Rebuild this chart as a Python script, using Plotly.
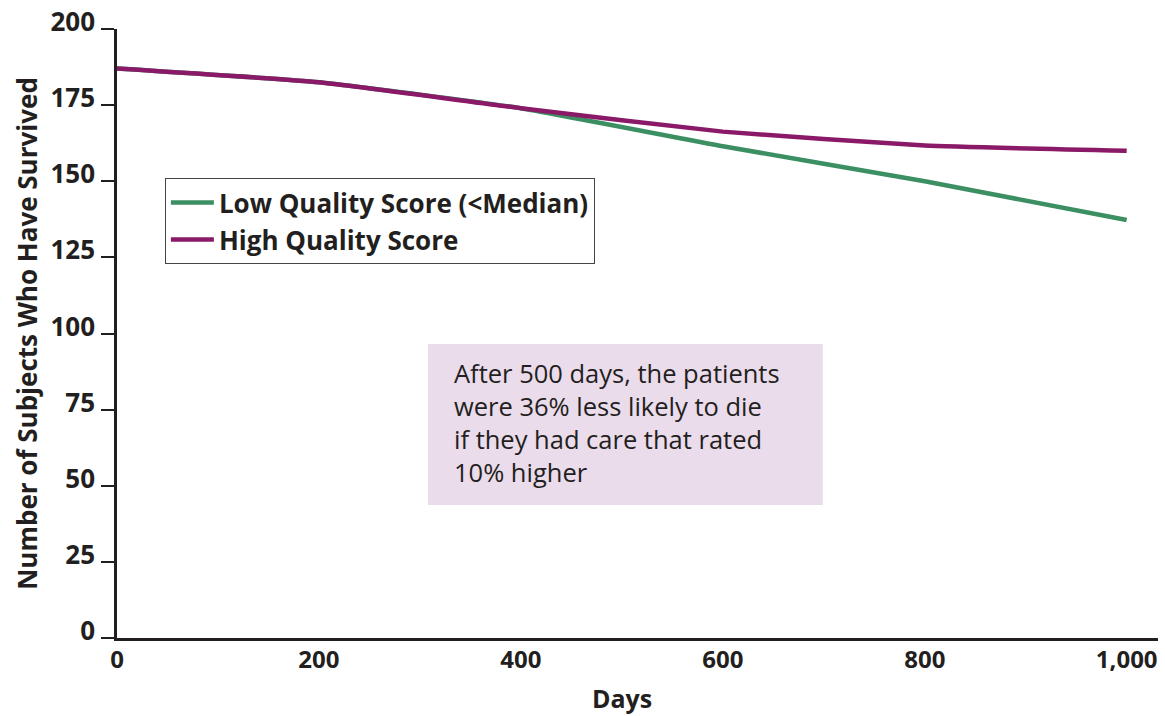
import plotly.graph_objects as go

# Survival counts by day for the two quality-score groups
days = [0, 200, 400, 600, 800, 1000]
low_quality = [187, 182.5, 174, 161.5, 150, 137.3]
high_quality = [187, 182.5, 174, 166.3, 161.7, 160]

y_ticks = [0, 25, 50, 75, 100, 125, 150, 175, 200]
x_ticks = [0, 200, 400, 600, 800, 1000]
x_tick_text = ["0", "200", "400", "600", "800", "1,000"]

GREEN = "#3b8f63"
PURPLE = "#8a1a68"
INK = "#231f20"
FONT = "Open Sans"

fig = go.Figure()
fig.add_trace(go.Scatter(
    x=days, y=low_quality, mode="lines", name="Low Quality Score (<Median)",
    line=dict(color=GREEN, width=4.5, shape="spline", smoothing=0.4),
))
fig.add_trace(go.Scatter(
    x=days, y=high_quality, mode="lines", name="High Quality Score",
    line=dict(color=PURPLE, width=4.5, shape="spline", smoothing=0.4),
))

# Callout box
fig.add_shape(
    type="rect", xref="paper", yref="paper",
    x0=0.2988, x1=0.678, y0=0.2184, y1=0.4828,
    fillcolor="#ebdcec", line=dict(width=0), layer="below",
)
fig.add_annotation(
    xref="paper", yref="paper", x=0.3218, y=0.466,
    xanchor="left", yanchor="top", align="left", showarrow=False,
    text="After 500 days, the patients<br>were 36% less likely to die<br>"
         "if they had care that rated<br>10% higher",
    font=dict(family=FONT, size=25.5, color=INK),
)

# X axis title centred on the data span
fig.add_annotation(
    xref="x", yref="paper", x=500, y=0, yshift=-60,
    xanchor="center", yanchor="middle", showarrow=False,
    text="Days", font=dict(family=FONT, size=25, color=INK, weight="bold"),
)

fig.update_layout(
    width=1165, height=716,
    margin=dict(l=117, r=7, t=29, b=78, autoexpand=False),
    paper_bgcolor="white", plot_bgcolor="white",
    showlegend=True,
    legend=dict(
        x=0.046, y=0.755, xanchor="left", yanchor="top",
        bgcolor="white", bordercolor="#444", borderwidth=1,
        font=dict(family=FONT, size=26, color=INK, weight="bold"),
        itemwidth=43, tracegroupgap=0,
    ),
)

fig.update_xaxes(
    range=[0, 1031], tickvals=x_ticks, ticktext=x_tick_text,
    showgrid=False, zeroline=False, showline=True, automargin=False,
    linecolor=INK, linewidth=2.5, ticks="", ticklabelstandoff=-2,
    tickfont=dict(family=FONT, size=24, color=INK, weight="bold"),
)
fig.update_yaxes(
    range=[0, 200], tickvals=y_ticks,
    showgrid=False, zeroline=False, showline=True, automargin=False,
    linecolor=INK, linewidth=2.5,
    ticks="outside", ticklen=13, tickwidth=2, tickcolor=INK,
    ticklabelstandoff=1, ticklabelshift=-7,
    tickfont=dict(family=FONT, size=26, color=INK, weight="bold"),
    title=dict(text="Number of Subjects Who Have Survived", standoff=6,
               font=dict(family=FONT, size=26, color=INK, weight="bold")),
)

fig.write_html("out.html")
